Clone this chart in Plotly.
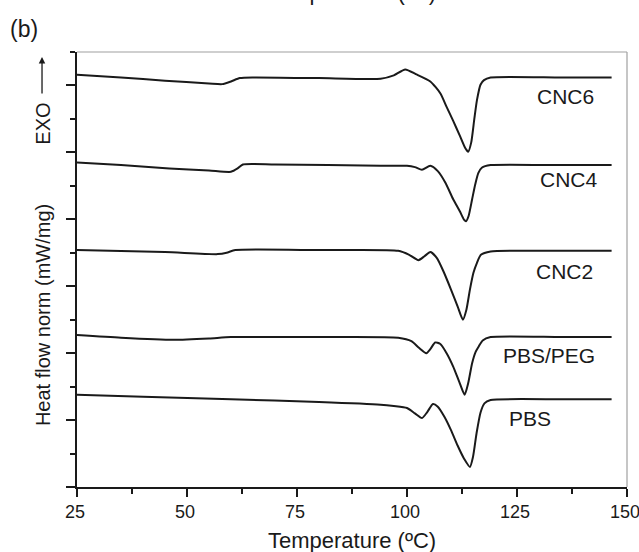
import plotly.graph_objects as go

# ---- data ----
cnc6_T = [25, 35, 45, 55, 58, 60, 62, 65, 80, 94, 97, 99.6, 102, 105.3, 107.6, 109, 110.5, 112, 113.2, 113.9, 114.6, 115.3, 115.9, 116.7, 117.5, 119, 135, 146.5]
cnc6_Y = [6.16, 6.12, 6.07, 6.03, 6.02, 6.06, 6.11, 6.12, 6.11, 6.10, 6.15, 6.24, 6.17, 6.06, 5.88, 5.68, 5.47, 5.25, 5.07, 5.01, 5.15, 5.50, 5.78, 6.01, 6.08, 6.12, 6.12, 6.12]

cnc4_T = [25, 35, 46, 55, 60, 61.5, 62.7, 70, 94, 100, 101.8, 103.4, 105.3, 107, 108.7, 110.5, 112, 113, 113.4, 114, 114.8, 115.5, 116.2, 117, 119, 135, 146.5]
cnc4_Y = [4.85, 4.81, 4.76, 4.73, 4.71, 4.76, 4.82, 4.82, 4.80, 4.80, 4.78, 4.74, 4.80, 4.72, 4.55, 4.30, 4.12, 3.99, 3.97, 4.05, 4.30, 4.52, 4.69, 4.77, 4.81, 4.81, 4.81]

cnc2_T = [25, 45, 57, 59, 61, 80, 98, 100.5, 102.6, 104, 105.3, 106.8, 108.3, 110, 111.5, 112.7, 113.5, 114.3, 115.1, 115.9, 116.8, 119, 135, 146.5]
cnc2_Y = [3.54, 3.51, 3.48, 3.50, 3.54, 3.54, 3.53, 3.47, 3.39, 3.45, 3.51, 3.42, 3.22, 2.95, 2.70, 2.50, 2.65, 2.95, 3.20, 3.35, 3.47, 3.52, 3.53, 3.53]

peg_T = [25, 35, 47, 55, 60, 80, 98, 101, 102.7, 104.4, 105.3, 106.4, 107.5, 109, 110.5, 112, 113.1, 113.9, 114.8, 115.6, 116.3, 117.2, 119, 135, 146.5]
peg_Y = [2.27, 2.23, 2.20, 2.22, 2.24, 2.24, 2.23, 2.18, 2.08, 2.00, 2.06, 2.16, 2.14, 2.00, 1.80, 1.55, 1.38, 1.55, 1.85, 2.02, 2.10, 2.19, 2.24, 2.24, 2.24]

pbs_T = [25, 40, 60, 80, 94, 97, 100, 101.8, 103.4, 104.6, 105.9, 107, 108.5, 110, 111.5, 113, 114.3, 115, 115.8, 116.7, 117.6, 119, 135, 146.5]
pbs_Y = [1.38, 1.35, 1.31, 1.27, 1.23, 1.21, 1.18, 1.10, 1.03, 1.12, 1.24, 1.20, 1.05, 0.85, 0.62, 0.42, 0.30, 0.45, 0.80, 1.11, 1.25, 1.30, 1.31, 1.31]

labels = ["CNC6", "CNC4", "CNC2", "PBS/PEG", "PBS"]
label_T = [136.1, 136.8, 135.7, 132.3, 128.0]
label_Y = [5.83, 4.60, 3.22, 1.96, 1.02]

x_ticks = [25, 50, 75, 100, 125, 150]

FONT = "Liberation Sans, Arial, sans-serif"
INK = "#1a1a1a"
series = [(cnc6_T, cnc6_Y), (cnc4_T, cnc4_Y), (cnc2_T, cnc2_Y), (peg_T, peg_Y), (pbs_T, pbs_Y)]

fig = go.Figure()
for (t, y), name in zip(series, labels):
    fig.add_trace(go.Scatter(x=t, y=y, mode="lines", name=name,
                             line=dict(color=INK, width=2, shape="spline", smoothing=0.6),
                             showlegend=False, hoverinfo="skip"))

for name, t, y in zip(labels, label_T, label_Y):
    fig.add_annotation(x=t, y=y, xref="x", yref="y", text=name, showarrow=False,
                       font=dict(family=FONT, size=21, color=INK),
                       xanchor="center", yanchor="middle")

# axis titles and panel labels
fig.add_annotation(xref="paper", yref="paper", x=0.5, y=-0.1228, text="Temperature (ºC)",
                   showarrow=False, font=dict(family=FONT, size=22, color=INK),
                   xanchor="center", yanchor="middle")
fig.add_annotation(xref="paper", yref="paper", x=0.5, y=1.104, text="Temperature (ºC)",
                   showarrow=False, font=dict(family=FONT, size=22, color=INK),
                   xanchor="center", yanchor="bottom")
fig.add_annotation(xref="paper", yref="paper", x=-0.125, y=1.053, text="(b)",
                   showarrow=False, font=dict(family=FONT, size=23, color=INK),
                   xanchor="left", yanchor="middle")
fig.add_annotation(xref="paper", yref="paper", x=-0.062, y=0.395, text="Heat flow norm (mW/mg)",
                   textangle=-90, showarrow=False, font=dict(family=FONT, size=20, color=INK),
                   xanchor="center", yanchor="middle")
fig.add_annotation(xref="paper", yref="paper", x=-0.062, y=0.835, text="EXO",
                   textangle=-90, showarrow=False, font=dict(family=FONT, size=20, color=INK),
                   xanchor="center", yanchor="middle")
fig.add_annotation(xref="paper", yref="paper", x=-0.0636, y=0.9885, text="",
                   showarrow=True, arrowhead=2, arrowsize=1, arrowwidth=1.3, arrowcolor=INK,
                   ax=0, ay=38)

# grey top / right frame lines
fig.add_shape(type="line", xref="paper", yref="paper", x0=0, x1=1, y0=1, y1=1,
              line=dict(color="#a0a0a0", width=1.2))
fig.add_shape(type="line", xref="paper", yref="paper", x0=1, x1=1, y0=0, y1=1,
              line=dict(color="#a0a0a0", width=1.2))

fig.update_xaxes(range=[25, 150], tickvals=x_ticks, ticktext=[str(v) for v in x_ticks],
                 ticks="outside", ticklen=8, tickwidth=1.5, tickcolor=INK,
                 showline=True, linecolor=INK, linewidth=1.5,
                 showgrid=False, zeroline=False, automargin=False,
                 ticklabeloverflow="allow", ticklabelshift=-2,
                 tickfont=dict(family=FONT, size=18, color=INK),
                 minor=dict(tick0=37.5, dtick=25, ticks="outside", ticklen=5, tickwidth=1.5,
                            tickcolor=INK, showgrid=False))
fig.update_yaxes(range=[0, 6.5], tick0=0, dtick=1, showticklabels=False,
                 ticks="outside", ticklen=9, tickwidth=1.5, tickcolor=INK,
                 showline=True, linecolor=INK, linewidth=1.5,
                 showgrid=False, zeroline=False, automargin=False,
                 minor=dict(tick0=0.5, dtick=1, ticks="outside", ticklen=5, tickwidth=1.5,
                            tickcolor=INK, showgrid=False))

fig.update_layout(width=639, height=552, margin=dict(l=77, r=12, t=52, b=64.5, pad=0),
                  paper_bgcolor="white", plot_bgcolor="white",
                  font=dict(family=FONT, color=INK))

fig.write_html("out.html", config={"displayModeBar": False},
               post_script="document.body.style.margin='0';document.body.style.padding='0';")
